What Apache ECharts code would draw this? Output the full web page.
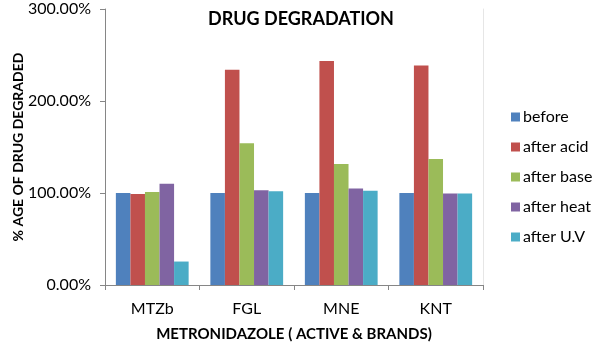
<!DOCTYPE html>
<html><head><meta charset="utf-8">
<script src="https://cdn.jsdelivr.net/npm/echarts@6/dist/echarts.min.js"></script>
<style>html,body{margin:0;padding:0;background:#fff}#c{width:600px;height:345px}</style>
</head><body><div id="c"></div>
<script>
const categories = ['MTZb', 'FGL', 'MNE', 'KNT'];
const seriesNames = ['before', 'after acid', 'after base', 'after heat', 'after U.V'];
const before = [100, 100, 100, 100];
const afterAcid = [99, 234, 243.5, 238.5];
const afterBase = [101, 154, 131.5, 137];
const afterHeat = [110, 103, 105, 99.5];
const afterUV = [25.5, 102, 102.5, 99.5];
const yTicks = [0, 100, 200, 300];
const colors = ['#4F81BD', '#C0504D', '#9BBB59', '#8064A2', '#4BACC6'];
const values = [before, afterAcid, afterBase, afterHeat, afterUV];

const font = 'Lato, "Open Sans", sans-serif';
const chart = echarts.init(document.getElementById('c'));
chart.setOption({
  animation: false,
  title: {
    text: 'DRUG DEGRADATION', left: 296, top: 5, textAlign: 'center',
    textStyle: { fontFamily: font, fontWeight: 'bold', fontSize: 18, color: '#000' }
  },
  legend: {
    orient: 'vertical', left: 506, top: 104, itemWidth: 9, itemHeight: 9, itemGap: 14,
    icon: 'rect',
    textStyle: { fontFamily: font, fontSize: 16, color: '#000', padding: [0, 0, 0, -2] },
    data: seriesNames
  },
  grid: { left: 105, right: 117, top: 9, bottom: 60, containLabel: false, outerBoundsMode: 'none' },
  xAxis: {
    type: 'category', data: categories,
    name: 'METRONIDAZOLE ( ACTIVE & BRANDS)', nameLocation: 'middle', nameGap: 42, nameMoveOverlap: false,
    nameTextStyle: { fontFamily: font, fontWeight: 'bold', fontSize: 15, color: '#000' },
    axisLine: { lineStyle: { color: '#868686', width: 1 } },
    axisTick: { show: true, length: 5, lineStyle: { color: '#868686' } },
    axisLabel: { fontFamily: font, fontSize: 16, color: '#000', margin: 16 }
  },
  yAxis: [{
    type: 'value', min: 0, max: 300, interval: 100,
    name: '% AGE OF DRUG DEGRADED', nameLocation: 'middle', nameGap: 80, nameRotate: 90, nameMoveOverlap: false,
    nameTextStyle: { fontFamily: font, fontWeight: 'bold', fontSize: 14, color: '#000' },
    axisLine: { show: true, lineStyle: { color: '#868686', width: 1 } },
    axisTick: { show: true, length: 5, lineStyle: { color: '#868686' } },
    splitLine: { show: false },
    axisLabel: {
      fontFamily: font, fontSize: 16, color: '#000', margin: 14,
      formatter: v => yTicks.includes(v) ? v.toFixed(2) + '%' : ''
    }
  }, {
    type: 'value', min: 0, max: 300, interval: 100, position: 'right',
    axisLine: { show: true, lineStyle: { color: '#e6e6e6', width: 1 } },
    axisTick: { show: false }, axisLabel: { show: false }, splitLine: { show: false }
  }],
  series: seriesNames.map((n, i) => ({
    name: n, type: 'bar', data: values[i], barGap: '0%', barCategoryGap: '23%',
    itemStyle: { color: colors[i] }
  }))
});
</script></body></html>
